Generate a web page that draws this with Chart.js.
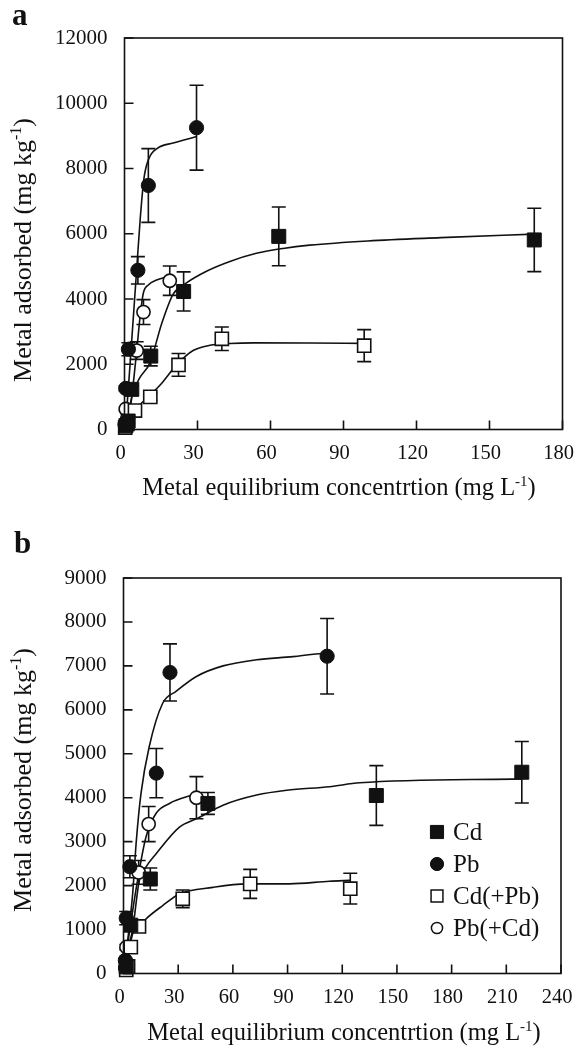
<!DOCTYPE html>
<html><head><meta charset="utf-8">
<script src="https://cdn.jsdelivr.net/npm/chart.js@4.4.1/dist/chart.umd.min.js"></script>
<style>
html,body{margin:0;padding:0;background:#fff;width:575px;height:1048px;overflow:hidden}
canvas{position:absolute;left:0}
#ca{top:0}
#cb{top:510px}
</style></head><body>
<canvas id="ca" width="575" height="510"></canvas>
<canvas id="cb" width="575" height="538"></canvas>
<script>
// ---------- Panel a ----------
const xTicksA = [0, 30, 60, 90, 120, 150, 180];
const yTicksA = [0, 2000, 4000, 6000, 8000, 10000, 12000];

const cdA_x = [0.6, 1.5, 3.0, 10.8, 24.3, 63.4, 168.4];
const cdA_y = [120, 260, 1230, 2250, 4230, 5920, 5810];
const cdA_e = [30, 60, 120, 300, 600, 900, 970];

const pbA_x = [0.2, 0.5, 1.6, 5.5, 9.8, 29.6];
const pbA_y = [160, 1260, 2460, 4880, 7480, 9250];
const pbA_e = [30, 80, 200, 420, 1130, 1300];

const cdpbA_x = [0.3, 1.2, 4.3, 10.6, 22.2, 40.0, 98.5];
const cdpbA_y = [60, 170, 580, 1000, 1980, 2780, 2570];
const cdpbA_e = [20, 40, 100, 120, 350, 360, 490];

const pbcdA_x = [0.3, 0.5, 5.0, 7.8, 18.6];
const pbcdA_y = [90, 630, 2420, 3600, 4560];
const pbcdA_e = [20, 50, 270, 380, 450];

const cdA_fit_x = [0, 1.5, 3, 6, 10.5, 15.3, 20, 25, 33.7, 43.3, 54.2, 65.2, 76.1, 100, 130, 168.4];
const cdA_fit_y = [0, 450, 1000, 1550, 2050, 3250, 4150, 4470, 4850, 5150, 5400, 5550, 5650, 5780, 5880, 5990];
const pbA_fit_x = [0, 1, 2, 3.5, 5, 6.5, 8, 10, 13.5, 20, 29.6];
const pbA_fit_y = [0, 700, 1700, 3300, 4900, 6500, 7700, 8300, 8620, 8780, 8980];
const cdpbA_fit_x = [0, 2, 5, 9.8, 15.3, 21.4, 28.2, 35.1, 43.3, 52.9, 76, 98];
const cdpbA_fit_y = [0, 250, 650, 1000, 1420, 1980, 2420, 2580, 2635, 2655, 2650, 2640];
const pbcdA_fit_x = [0, 1, 2.3, 3.6, 5, 6.4, 7.7, 9.8, 13.2, 18.6];
const pbcdA_fit_y = [0, 250, 600, 1400, 2400, 3450, 4170, 4430, 4580, 4700];

// ---------- Panel b ----------
const xTicksB = [0, 30, 60, 90, 120, 150, 180, 210, 240];
const yTicksB = [0, 1000, 2000, 3000, 4000, 5000, 6000, 7000, 8000, 9000];

const cdB_x = [1.5, 4, 14.7, 46.3, 138.7, 218.5];
const cdB_y = [150, 1100, 2150, 3870, 4050, 4580];
const cdB_e = [30, 100, 250, 250, 680, 700];

const pbB_x = [1.0, 1.5, 3.5, 18.0, 25.5, 111.7];
const pbB_y = [300, 1260, 2430, 4560, 6850, 7220];
const pbB_e = [40, 150, 250, 560, 650, 860];

const cdpbB_x = [1.5, 2.5, 4.0, 8.5, 32.5, 69.5, 124.4];
const cdpbB_y = [80, 160, 600, 1070, 1700, 2040, 1930];
const cdpbB_e = [20, 40, 80, 100, 200, 330, 350];

const pbcdB_x = [1.0, 1.6, 8.3, 13.8, 40.0];
const pbcdB_y = [130, 600, 2300, 3400, 4000];
const pbcdB_e = [30, 60, 270, 400, 480];

const pbB_fit_x = [0, 1, 3, 5, 7, 9.6, 14.1, 21.5, 28.8, 40, 54.6, 73, 93, 111.7];
const pbB_fit_y = [0, 300, 1000, 1800, 3000, 4100, 5160, 6150, 6420, 6760, 7000, 7140, 7210, 7300];
const cdB_fit_x = [0, 2, 5, 8.6, 12.3, 17.8, 30.7, 40, 54.6, 73, 89.5, 113, 129.5, 218.5];
const cdB_fit_y = [0, 500, 1000, 2100, 2420, 2720, 3330, 3520, 3830, 4060, 4170, 4250, 4340, 4430];
const cdpbB_fit_x = [0, 2, 5, 12.3, 21.5, 30.7, 49, 67.4, 91, 113, 124.4];
const cdpbB_fit_y = [0, 300, 900, 1240, 1545, 1810, 1960, 2040, 2040, 2100, 2120];
const pbcdB_fit_x = [0, 1, 3.1, 7.7, 12.3, 17.8, 25.2, 40];
const pbcdB_fit_y = [0, 300, 900, 2120, 3100, 3640, 3870, 4090];

const seriesLabels = ['Cd', 'Pb', 'Cd(+Pb)', 'Pb(+Cd)'];
const xTitle = ['Metal equilibrium concentrtion (mg L', '-1', ')'];
const yTitle = ['Metal adsorbed (mg kg', '-1', ')'];

// ---------- helpers ----------
const SERIF = "'Liberation Serif', 'Times New Roman', serif";
const INK = '#111';
const pts = (xs, ys) => xs.map((x, i) => ({x, y: ys[i]}));

const styles = [
  {pointStyle: 'rect', radius: 9.9, fill: INK, border: 1},
  {pointStyle: 'circle', radius: 7.1, fill: INK, border: 1},
  {pointStyle: 'rect', radius: 9.3, fill: '#fff', border: 1.6},
  {pointStyle: 'circle', radius: 6.6, fill: '#fff', border: 1.6}
];
const legendStyles = [
  {pointStyle: 'rect', radius: 9.3, fill: INK, border: 1},
  {pointStyle: 'circle', radius: 6.6, fill: INK, border: 1},
  {pointStyle: 'rect', radius: 8.4, fill: '#fff', border: 1.5},
  {pointStyle: 'circle', radius: 5.6, fill: '#fff', border: 1.5}
];

function markerSet(i, xs, ys, es) {
  const s = styles[i];
  return {label: seriesLabels[i], data: pts(xs, ys), err: es, showLine: false,
    pointStyle: s.pointStyle, pointRadius: s.radius, pointBackgroundColor: s.fill,
    pointBorderColor: INK, pointBorderWidth: s.border, order: 0, clip: false, isMarker: true, styleIdx: i};
}
function curveSet(xs, ys) {
  return {label: 'fit', data: pts(xs, ys), showLine: true, pointRadius: 0, borderColor: INK,
    borderWidth: 1.6, cubicInterpolationMode: 'monotone', order: 1, clip: false, isMarker: false};
}

function drawRich(ctx, parts, size, cx, cy, rotate) {
  ctx.save();
  ctx.translate(cx, cy);
  if (rotate) ctx.rotate(-Math.PI / 2);
  const big = size + 'px ' + SERIF, small = Math.round(size * 0.62) + 'px ' + SERIF;
  const widths = parts.map((p, i) => { ctx.font = i === 1 ? small : big; return ctx.measureText(p).width; });
  const total = widths.reduce((a, b) => a + b, 0);
  let x = -total / 2;
  ctx.fillStyle = INK;
  ctx.textBaseline = 'alphabetic';
  ctx.textAlign = 'left';
  parts.forEach((p, i) => {
    ctx.font = i === 1 ? small : big;
    ctx.fillText(p, x, i === 1 ? -size * 0.38 : 0);
    x += widths[i];
  });
  ctx.restore();
}

function drawMarker(ctx, s, x, y) {
  ctx.save();
  ctx.beginPath();
  if (s.pointStyle === 'rect') {
    const h = s.radius * Math.SQRT1_2;
    ctx.rect(x - h, y - h, 2 * h, 2 * h);
  } else {
    ctx.arc(x, y, s.radius, 0, Math.PI * 2);
  }
  ctx.fillStyle = s.fill; ctx.fill();
  ctx.lineWidth = s.border; ctx.strokeStyle = INK; ctx.stroke();
  ctx.restore();
}

const errorBars = {
  id: 'errorBars',
  beforeDatasetsDraw(chart) {
    const {ctx} = chart;
    const xs = chart.scales.x, ys = chart.scales.y;
    ctx.save();
    ctx.strokeStyle = INK; ctx.lineWidth = 1.6;
    chart.data.datasets.forEach(ds => {
      if (!ds.err) return;
      ds.data.forEach((p, i) => {
        const e = ds.err[i];
        const px = xs.getPixelForValue(p.x);
        const y1 = ys.getPixelForValue(p.y + e), y0 = ys.getPixelForValue(p.y - e);
        ctx.beginPath();
        ctx.moveTo(px, y1); ctx.lineTo(px, y0);
        ctx.moveTo(px - 7, y1); ctx.lineTo(px + 7, y1);
        ctx.moveTo(px - 7, y0); ctx.lineTo(px + 7, y0);
        ctx.stroke();
      });
    });
    ctx.restore();
  }
};

const frame = {
  id: 'frame',
  afterDraw(chart, args, opts) {
    const {ctx, chartArea: a} = chart;
    const xs = chart.scales.x, ys = chart.scales.y;
    ctx.save();
    ctx.strokeStyle = INK; ctx.lineWidth = 1.6;
    ctx.strokeRect(a.left, a.top, a.right - a.left, a.bottom - a.top);
    ctx.beginPath();
    xs.ticks.forEach(t => {
      const px = xs.getPixelForValue(t.value);
      ctx.moveTo(px, a.bottom); ctx.lineTo(px, a.bottom - 9);
    });
    ys.ticks.forEach(t => {
      const py = ys.getPixelForValue(t.value);
      ctx.moveTo(a.left, py); ctx.lineTo(a.left + 9, py);
    });
    ctx.stroke();
    ctx.restore();
    // titles
    drawRich(ctx, xTitle, opts.xSize, opts.xTitle[0], opts.xTitle[1], false);
    drawRich(ctx, yTitle, opts.ySize, opts.yTitle[0], opts.yTitle[1], true);
    // panel letter
    ctx.save();
    ctx.font = 'bold ' + opts.letterSize + 'px ' + SERIF;
    ctx.fillStyle = INK; ctx.textBaseline = 'alphabetic'; ctx.textAlign = 'left';
    ctx.fillText(opts.letter, opts.letterPos[0], opts.letterPos[1]);
    ctx.restore();
    // legend
    if (opts.legend) {
      const L = opts.legend;
      chart.data.datasets.filter(d => d.isMarker).forEach((d, k) => {
        const y = L.y0 + k * L.dy;
        drawMarker(ctx, legendStyles[d.styleIdx], L.mx, y);
        ctx.save();
        ctx.font = L.size + 'px ' + SERIF; ctx.fillStyle = INK;
        ctx.textBaseline = 'middle'; ctx.textAlign = 'left';
        ctx.fillText(d.label, L.tx, y + 1);
        ctx.restore();
      });
    }
  }
};

function makeChart(id, cfg) {
  return new Chart(document.getElementById(id), {
    type: 'scatter',
    data: {datasets: cfg.datasets},
    plugins: [errorBars, frame],
    options: {
      responsive: false, animation: false, events: [],
      layout: {padding: {top: cfg.top, right: cfg.right, left: 0, bottom: 0}},
      plugins: {legend: {display: false}, tooltip: {enabled: false}, frame: cfg.frame},
      scales: {
        x: {type: 'linear', min: cfg.xTicks[0], max: cfg.xTicks[cfg.xTicks.length - 1],
          afterBuildTicks: s => { s.ticks = cfg.xTicks.map(v => ({value: v})); },
          ticks: {font: {family: SERIF, size: 20.5}, color: INK, padding: cfg.xPad, labelOffset: -4,
            maxRotation: 0, autoSkip: false, callback: v => String(v)},
          grid: {display: false, drawTicks: false}, border: {display: false},
          afterFit: s => { s.height = cfg.xHeight; s.paddingLeft = 0; s.paddingRight = 0; }
        },
        y: {type: 'linear', min: cfg.yTicks[0], max: cfg.yTicks[cfg.yTicks.length - 1],
          afterBuildTicks: s => { s.ticks = cfg.yTicks.map(v => ({value: v})); },
          ticks: {font: {family: SERIF, size: 21}, color: INK, padding: 17, autoSkip: false, callback: v => String(v)},
          grid: {display: false, drawTicks: false}, border: {display: false},
          afterFit: s => { s.width = cfg.yWidth; s.paddingTop = 0; s.paddingBottom = 0; }
        }
      }
    }
  });
}

makeChart('ca', {
  datasets: [
    markerSet(0, cdA_x, cdA_y, cdA_e),
    markerSet(1, pbA_x, pbA_y, pbA_e),
    markerSet(2, cdpbA_x, cdpbA_y, cdpbA_e),
    markerSet(3, pbcdA_x, pbcdA_y, pbcdA_e),
    curveSet(cdA_fit_x, cdA_fit_y),
    curveSet(pbA_fit_x, pbA_fit_y),
    curveSet(cdpbA_fit_x, cdpbA_fit_y),
    curveSet(pbcdA_fit_x, pbcdA_fit_y)
  ],
  xTicks: xTicksA, yTicks: yTicksA,
  top: 38, right: 12.5, yWidth: 124.5, xHeight: 80.5, xPad: 12,
  frame: {xSize: 24.5, ySize: 26, xTitle: [339, 495], yTitle: [31, 250], letter: 'a', letterSize: 31, letterPos: [12, 25]}
});

makeChart('cb', {
  datasets: [
    markerSet(0, cdB_x, cdB_y, cdB_e),
    markerSet(1, pbB_x, pbB_y, pbB_e),
    markerSet(2, cdpbB_x, cdpbB_y, cdpbB_e),
    markerSet(3, pbcdB_x, pbcdB_y, pbcdB_e),
    curveSet(cdB_fit_x, cdB_fit_y),
    curveSet(pbB_fit_x, pbB_fit_y),
    curveSet(cdpbB_fit_x, cdpbB_fit_y),
    curveSet(pbcdB_fit_x, pbcdB_fit_y)
  ],
  xTicks: xTicksB, yTicks: yTicksB,
  top: 68, right: 14, yWidth: 123.5, xHeight: 74.5, xPad: 12,
  frame: {xSize: 24.5, ySize: 26, xTitle: [344, 530], yTitle: [31, 270], letter: 'b', letterSize: 31, letterPos: [14, 43],
    legend: {mx: 437, tx: 453, y0: 322, dy: 32, size: 25}}
});
</script>
</body></html>
